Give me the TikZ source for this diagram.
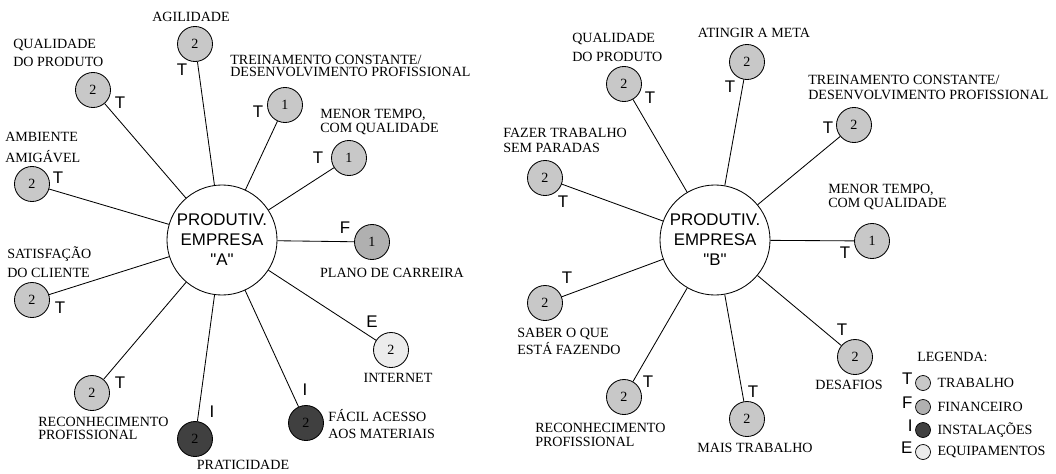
\documentclass[tikz,border=0pt]{standalone}
\usepackage{fontspec}
\setmainfont{Liberation Serif}
\setsansfont{Liberation Sans}
\usepackage{tikz}
\usetikzlibrary{positioning}
\definecolor{trab}{HTML}{C8C8C8}
\definecolor{fin}{HTML}{B0B0B0}
\definecolor{inst}{HTML}{404040}
\definecolor{equip}{HTML}{ECECEC}
\tikzset{
  hub/.style={
    circle, draw=black, fill=white, line width=0.6pt,
    minimum size=2.75cm, inner sep=0pt,
    font=\fontsize{12}{14.2}\sffamily, align=center
  },
  fator/.style={
    circle, draw=black, fill=#1, line width=0.6pt,
    minimum size=0.875cm, inner sep=0pt,
    font=\fontsize{10}{12}\selectfont
  },
  fator/.default=trab,
  chave/.style={
    circle, draw=black, fill=#1, line width=0.5pt,
    minimum size=0.375cm, inner sep=0pt
  },
  chave/.default=trab,
  rotulo/.style={
    font=\fontsize{10}{#1}\selectfont, align=left, inner sep=0pt
  },
  rotulo/.default=12,
  letra/.style={
    font=\fontsize{12}{12}\sffamily, inner sep=0pt
  },
  elo/.style={line width=0.6pt, draw=black},
}

\begin{document}
\begin{tikzpicture}[x=0.025cm, y=-0.025cm]
  \useasboundingbox (0,0) rectangle (1056,473);

  % ── Empresa A ──
  \node[hub] (hubA) at (222,240) {PRODUTIV.\\EMPRESA\\\textquotedbl A\textquotedbl};

  \node[fator] (a1) at (195,44) {2};
  \node[fator] (a2) at (93,90) {2};
  \node[fator] (a3) at (32,184) {2};
  \node[fator] (a4) at (285,105) {1};
  \node[fator] (a5) at (349,158) {1};
  \node[fator=fin] (a6) at (372,242) {1};
  \node[fator=equip] (a7) at (391,350) {2};
  \node[fator=inst, text=black] (a8) at (306,423) {2};
  \node[fator=inst, text=black] (a9) at (195,439) {2};
  \node[fator] (a10) at (92,393) {2};
  \node[fator] (a11) at (32,300) {2};

  \draw[elo] (hubA) -- (a1);
  \draw[elo] (hubA) -- (a2);
  \draw[elo] (hubA) -- (a3);
  \draw[elo] (hubA) -- (a4);
  \draw[elo] (hubA) -- (a5);
  \draw[elo] (hubA) -- (a6);
  \draw[elo] (hubA) -- (a7);
  \draw[elo] (hubA) -- (a8);
  \draw[elo] (hubA) -- (a9);
  \draw[elo] (hubA) -- (a10);
  \draw[elo] (hubA) -- (a11);

  \node[letra] (ta1) at (182,70) {T};
  \node[letra] (ta2) at (120,103) {T};
  \node[letra] (ta3) at (58,178) {T};
  \node[letra] (ta4) at (258,112) {T};
  \node[letra] (ta5) at (318,158) {T};
  \node[letra] (ta6) at (345,228) {F};
  \node[letra] (ta7) at (372,322) {E};
  \node[letra] (ta8) at (305,390) {I};
  \node[letra] (ta9) at (212,412) {I};
  \node[letra] (ta10) at (120,383) {T};
  \node[letra] (ta11) at (60,308) {T};

  \node[rotulo] (la1) at (191,17) {AGILIDADE};
  \node[rotulo=12.8, anchor=west] (la2) at (13,53) {QUALIDADE\\DO PRODUTO};
  \node[rotulo=14.9, anchor=west] (la3) at (5,147) {AMBIENTE\\AMIG\'AVEL};
  \node[rotulo=8.8, anchor=west] (la4) at (230,66) {TREINAMENTO CONSTANTE/\\DESENVOLVIMENTO PROFISSIONAL};
  \node[rotulo=10.6, anchor=west] (la5) at (320,122) {MENOR TEMPO,\\COM QUALIDADE};
  \node[rotulo] (la6) at (392,273) {PLANO DE CARREIRA};
  \node[rotulo] (la7) at (398,378) {INTERNET};
  \node[rotulo=12, anchor=west] (la8) at (328,424) {F\'ACIL ACESSO\\AOS MATERIAIS};
  \node[rotulo] (la9) at (243,465) {PRATICIDADE};
  \node[rotulo=9.2, anchor=west] (la10) at (38,428) {RECONHECIMENTO\\PROFISSIONAL};
  \node[rotulo=13.5, anchor=west] (la11) at (7,262) {SATISFA\c{C}\~AO\\DO CLIENTE};

  % ── Empresa B ──
  \node[hub] (hubB) at (715,240) {PRODUTIV.\\EMPRESA\\\textquotedbl B\textquotedbl};

  \node[fator] (b1) at (624,84) {2};
  \node[fator] (b2) at (747,62) {2};
  \node[fator] (b3) at (545,178) {2};
  \node[fator] (b4) at (854,125) {2};
  \node[fator] (b5) at (872,241) {1};
  \node[fator] (b6) at (855,357) {2};
  \node[fator] (b7) at (747,419) {2};
  \node[fator] (b8) at (624,397) {2};
  \node[fator] (b9) at (545,303) {2};

  \draw[elo] (hubB) -- (b1);
  \draw[elo] (hubB) -- (b2);
  \draw[elo] (hubB) -- (b3);
  \draw[elo] (hubB) -- (b4);
  \draw[elo] (hubB) -- (b5);
  \draw[elo] (hubB) -- (b6);
  \draw[elo] (hubB) -- (b7);
  \draw[elo] (hubB) -- (b8);
  \draw[elo] (hubB) -- (b9);

  \node[letra] (tb1) at (650,98) {T};
  \node[letra] (tb2) at (730,87) {T};
  \node[letra] (tb3) at (563,202) {T};
  \node[letra] (tb4) at (828,128) {T};
  \node[letra] (tb5) at (845,253) {T};
  \node[letra] (tb6) at (842,330) {T};
  \node[letra] (tb7) at (753,392) {T};
  \node[letra] (tb8) at (648,382) {T};
  \node[letra] (tb9) at (567,278) {T};

  \node[rotulo=13.5, anchor=west] (lb1) at (572,47) {QUALIDADE\\DO PRODUTO};
  \node[rotulo] (lb2) at (754,33) {ATINGIR A META};
  \node[rotulo=10.6, anchor=west] (lb3) at (503,140) {FAZER TRABALHO\\SEM PARADAS};
  \node[rotulo=10.6, anchor=west] (lb4) at (808,87) {TREINAMENTO CONSTANTE/\\DESENVOLVIMENTO PROFISSIONAL};
  \node[rotulo=10.6, anchor=west] (lb5) at (828,197) {MENOR TEMPO,\\COM QUALIDADE};
  \node[rotulo] (lb6) at (849,385) {DESAFIOS};
  \node[rotulo] (lb7) at (755,448) {MAIS TRABALHO};
  \node[rotulo=10, anchor=west] (lb8) at (535,435) {RECONHECIMENTO\\PROFISSIONAL};
  \node[rotulo=12, anchor=west] (lb9) at (517,341) {SABER O QUE\\EST\'A FAZENDO};

  % ── Legenda ──
  \node[rotulo, anchor=west] (leg) at (917,357) {LEGENDA:};
  \node[chave] (k1) at (923,383) {};
  \node[chave=fin] (k2) at (923,407) {};
  \node[chave=inst] (k3) at (923,430) {};
  \node[chave=equip] (k4) at (923,452) {};
  \node[letra, left=0.06cm of k1, yshift=0.12cm] (kt1) {T};
  \node[letra, left=0.06cm of k2, yshift=0.12cm] (kt2) {F};
  \node[letra, left=0.06cm of k3, yshift=0.12cm] (kt3) {I};
  \node[letra, left=0.06cm of k4, yshift=0.12cm] (kt4) {E};
  \node[rotulo, right=0.16cm of k1] (kl1) {TRABALHO};
  \node[rotulo, right=0.16cm of k2] (kl2) {FINANCEIRO};
  \node[rotulo, right=0.16cm of k3] (kl3) {INSTALA\c{C}\~OES};
  \node[rotulo, right=0.16cm of k4] (kl4) {EQUIPAMENTOS};
\end{tikzpicture}
\end{document}
